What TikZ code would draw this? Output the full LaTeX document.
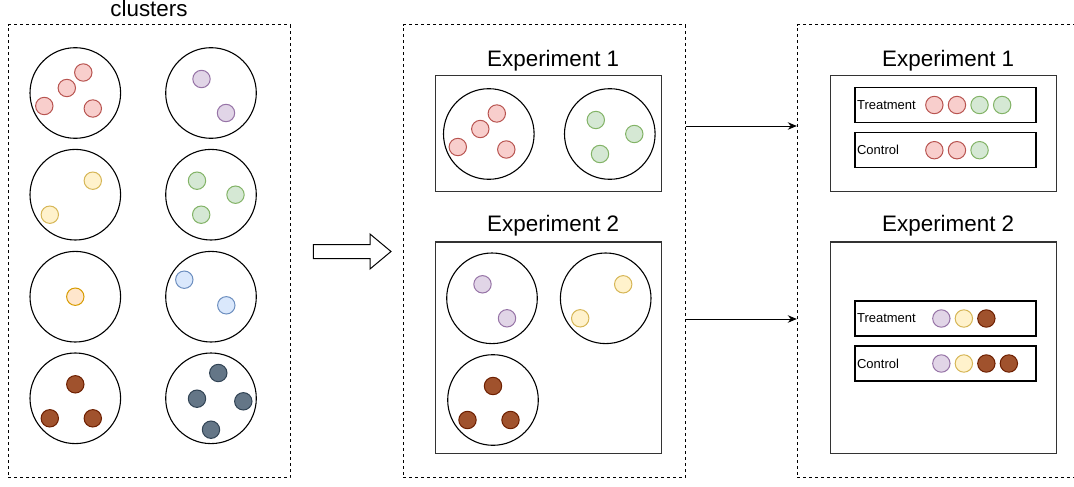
\documentclass[tikz,border=0pt]{standalone}
\usepackage{fontspec}
\setmainfont{Liberation Sans}
\usetikzlibrary{arrows.meta,positioning}

\definecolor{cRedFill}{HTML}{F8CECC}    \definecolor{cRedLine}{HTML}{B85450}
\definecolor{cPurpleFill}{HTML}{E1D5E7} \definecolor{cPurpleLine}{HTML}{9673A6}
\definecolor{cYellowFill}{HTML}{FFF2CC} \definecolor{cYellowLine}{HTML}{D6B656}
\definecolor{cGreenFill}{HTML}{D5E8D4}  \definecolor{cGreenLine}{HTML}{82B366}
\definecolor{cOrangeFill}{HTML}{FFE6CC} \definecolor{cOrangeLine}{HTML}{D79B00}
\definecolor{cBlueFill}{HTML}{DAE8FC}   \definecolor{cBlueLine}{HTML}{6C8EBF}
\definecolor{cBrownFill}{HTML}{A0522D}  \definecolor{cBrownLine}{HTML}{6D1F00}
\definecolor{cSlateFill}{HTML}{647687}  \definecolor{cSlateLine}{HTML}{314354}

% dot offsets inside one cluster circle
\newcommand{\ptsRed}{8/-20.5,-8.5/-5,-31/13,17.5/15.5}
\newcommand{\ptsPurple}{-9.5/-14,15/20}
\newcommand{\ptsYellow}{17.5/-14,-25.5/20}
\newcommand{\ptsGreen}{-14/-14,24.5/0,-9.8/20}
\newcommand{\ptsOrange}{0/0}
\newcommand{\ptsBlue}{-26.7/-17,15.3/8.6}
\newcommand{\ptsBrown}{0/-14,-25.5/20,17.5/20}
\newcommand{\ptsSlate}{7.3/-25.3,-14/0.4,32.3/3,0/31.4}
\newcommand{\clu}[3]{\foreach \dx/\dy [count=\k] in #3
  \node[dot=#2] (#1d\k) at ([shift={(\dx,\dy)}]#1) {};}

\begin{document}
\begin{tikzpicture}[x=1pt,y=-1pt,
  panel/.style={draw, line width=1, dash pattern=on 3pt off 3pt, inner sep=0,
    minimum width=282, minimum height=452.7},
  expbox/.style={draw=black!80, line width=1.3, inner sep=0, minimum width=226},
  tcbox/.style={draw, line width=1.3, inner sep=0, minimum width=181, minimum height=35},
  circ/.style={circle, draw, line width=1.1, inner sep=0, minimum size=90.6},
  dot/.style={circle, draw=c#1Line, fill=c#1Fill, line width=1, inner sep=0, minimum size=17.4},
  title/.style={inner sep=0, font=\fontsize{22.4}{26}\selectfont},
  lab/.style={inner sep=0, anchor=west, font=\fontsize{13}{15}\selectfont},
  link/.style={line width=1, -{Stealth[length=9pt,width=7.5pt]}}]
\clip (0,0) rectangle (1074,487);

% all clusters
\node[panel] (pA) at (149,251.35) {};
\node[title, above=7.5pt of pA] (tA) {clusters};
\node[circ] (a1) at (75.3,93) {};
\node[circ] (a2) at (211,93) {};
\node[circ] (a3) at (75.3,194.7) {};
\node[circ] (a4) at (211,194.7) {};
\node[circ] (a5) at (75.3,296.7) {};
\node[circ] (a6) at (211,296.7) {};
\node[circ] (a7) at (75.3,398.3) {};
\node[circ] (a8) at (211,398.3) {};
\clu{a1}{Red}{\ptsRed}
\clu{a2}{Purple}{\ptsPurple}
\clu{a3}{Yellow}{\ptsYellow}
\clu{a4}{Green}{\ptsGreen}
\clu{a5}{Orange}{\ptsOrange}
\clu{a6}{Blue}{\ptsBlue}
\clu{a7}{Brown}{\ptsBrown}
\clu{a8}{Slate}{\ptsSlate}

\draw[line width=1, fill=white] (313.3,244.5) -- (370,244.5) -- (370,234) -- (391,251.5)
  -- (370,269) -- (370,258.5) -- (313.3,258.5) -- cycle;

% clusters split into experiments
\node[panel] (pB) at (544.35,251.35) {};
\node[expbox, minimum height=116] (e1) at (548.7,133.7) {};
\node[title, anchor=base] (te1) at ([xshift=4.5pt,yshift=9pt]e1.north) {Experiment 1};
\node[circ] (b1) at (488.8,134) {};
\node[circ] (b2) at (609.8,134) {};
\clu{b1}{Red}{\ptsRed}
\clu{b2}{Green}{\ptsGreen}
\node[expbox, minimum height=211.3] (e2) at (548.7,347.65) {};
\node[title, anchor=base] (te2) at ([xshift=4.5pt,yshift=10pt]e2.north) {Experiment 2};
\node[circ] (b3) at (492,298.3) {};
\node[circ] (b4) at (605.7,298.3) {};
\node[circ] (b5) at (493,400) {};
\clu{b3}{Purple}{\ptsPurple}
\clu{b4}{Yellow}{\ptsYellow}
\clu{b5}{Brown}{\ptsBrown}

% treatment / control
\node[panel] (pC) at (938.3,251.35) {};
\node[expbox, minimum height=116] (f1) at (943.7,133.7) {};
\node[title, anchor=base] (tf1) at ([xshift=4.5pt,yshift=9pt]f1.north) {Experiment 1};
\node[tcbox] (t1) at (945.5,105) {};
\node[lab, right=2.5pt of t1.west] (lt1) {Treatment};
\node[tcbox] (c1) at (945.5,150.2) {};
\node[lab, right=2.5pt of c1.west] (lc1) {Control};
\foreach \c [count=\k] in {Red,Red,Green,Green}
  \node[dot=\c] (t1d\k) at ([xshift={57.4+22.6*\k}]t1.west) {};
\foreach \c [count=\k] in {Red,Red,Green}
  \node[dot=\c] (c1d\k) at ([xshift={57.4+22.6*\k}]c1.west) {};

\node[expbox, minimum height=211.3] (f2) at (943.7,347.65) {};
\node[title, anchor=base] (tf2) at ([xshift=4.5pt,yshift=10pt]f2.north) {Experiment 2};
\node[tcbox] (t2) at (945.5,318.5) {};
\node[lab, right=2.5pt of t2.west] (lt2) {Treatment};
\node[tcbox] (c2) at (945.5,363.5) {};
\node[lab, right=2.5pt of c2.west] (lc2) {Control};
\foreach \c [count=\k] in {Purple,Yellow,Brown}
  \node[dot=\c] (t2d\k) at ([xshift={64.5+22.5*\k}]t2.west) {};
\foreach \c [count=\k] in {Purple,Yellow,Brown,Brown}
  \node[dot=\c] (c2d\k) at ([xshift={64.5+22.5*\k}]c2.west) {};

\coordinate (s1) at (685.7,126);
\coordinate (s2) at (685.7,319);
\draw[link] (s1) -- (s1 -| pC.west);
\draw[link] (s2) -- (s2 -| pC.west);
\end{tikzpicture}
\end{document}
